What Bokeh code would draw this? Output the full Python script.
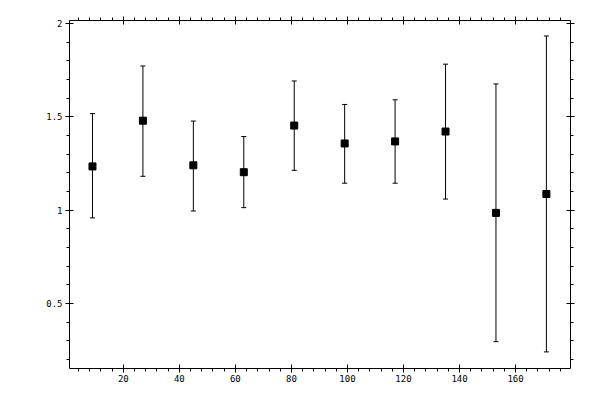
from bokeh.plotting import figure
from bokeh.models import ColumnDataSource, Whisker, TeeHead, LinearAxis, FixedTicker, Range1d
from bokeh.embed import file_html
from bokeh.resources import INLINE

# Data (bin centres, value, error bar ends)
x_vals = [9, 27, 45, 63, 81, 99, 117, 135, 153, 171]
y_vals = [1.235, 1.480, 1.241, 1.204, 1.454, 1.358, 1.369, 1.422, 0.986, 1.087]
y_upper = [1.518, 1.773, 1.478, 1.395, 1.693, 1.567, 1.592, 1.783, 1.677, 1.934]
y_lower = [0.959, 1.182, 0.996, 1.014, 1.214, 1.145, 1.145, 1.060, 0.296, 0.241]

x_major = [20, 40, 60, 80, 100, 120, 140, 160]
x_minor = list(range(4, 180, 4))
y_major = [0.5, 1.0, 1.5, 2.0]
y_minor = [round(0.2 + 0.1 * i, 1) for i in range(19)]
y_labels = {0.5: "0.5", 1.0: "1", 1.5: "1.5", 2.0: "2"}

source = ColumnDataSource(data=dict(x=x_vals, y=y_vals, upper=y_upper, lower=y_lower))

p = figure(width=584, height=384, output_backend="svg", toolbar_location=None,
           x_range=Range1d(0.8, 179.6), y_range=Range1d(0.152, 2.017),
           x_axis_type=None, y_axis_type=None,
           min_border_left=69, min_border_right=14, min_border_top=20, min_border_bottom=16)
p.xgrid.visible = False
p.ygrid.visible = False
p.outline_line_color = None
p.background_fill_color = "white"
p.border_fill_color = "white"

font = "DejaVu Sans Mono"

bottom = LinearAxis(ticker=FixedTicker(ticks=x_major, minor_ticks=x_minor))
top = LinearAxis(ticker=FixedTicker(ticks=x_major, minor_ticks=x_minor))
left = LinearAxis(ticker=FixedTicker(ticks=y_major, minor_ticks=y_minor))
right = LinearAxis(ticker=FixedTicker(ticks=y_major, minor_ticks=y_minor))

left.major_label_overrides = y_labels
top.major_label_overrides = {t: "" for t in x_major}
right.major_label_overrides = {t: "" for t in y_major}

for ax in (bottom, top, left, right):
    ax.axis_line_color = "black"
    ax.axis_line_width = 1
    ax.major_tick_in = 4
    ax.major_tick_out = 4
    ax.minor_tick_in = 0
    ax.minor_tick_out = 3
    ax.major_tick_line_color = "black"
    ax.minor_tick_line_color = "black"
    ax.major_label_text_font = font
    ax.major_label_text_font_size = "9px"
    ax.major_label_text_color = "black"
    ax.major_label_standoff = 3

bottom.major_label_standoff = 2

p.add_layout(bottom, "below")
p.add_layout(top, "above")
p.add_layout(left, "left")
p.add_layout(right, "right")

whisker = Whisker(source=source, base="x", upper="upper", lower="lower",
                  line_color="black", line_width=1,
                  upper_head=TeeHead(size=5, line_color="black", line_width=1),
                  lower_head=TeeHead(size=5, line_color="black", line_width=1))
p.add_layout(whisker)

p.scatter("x", "y", source=source, marker="square", size=7,
          fill_color="black", line_color="black")

open("out.html", "w").write(file_html(p, INLINE))
